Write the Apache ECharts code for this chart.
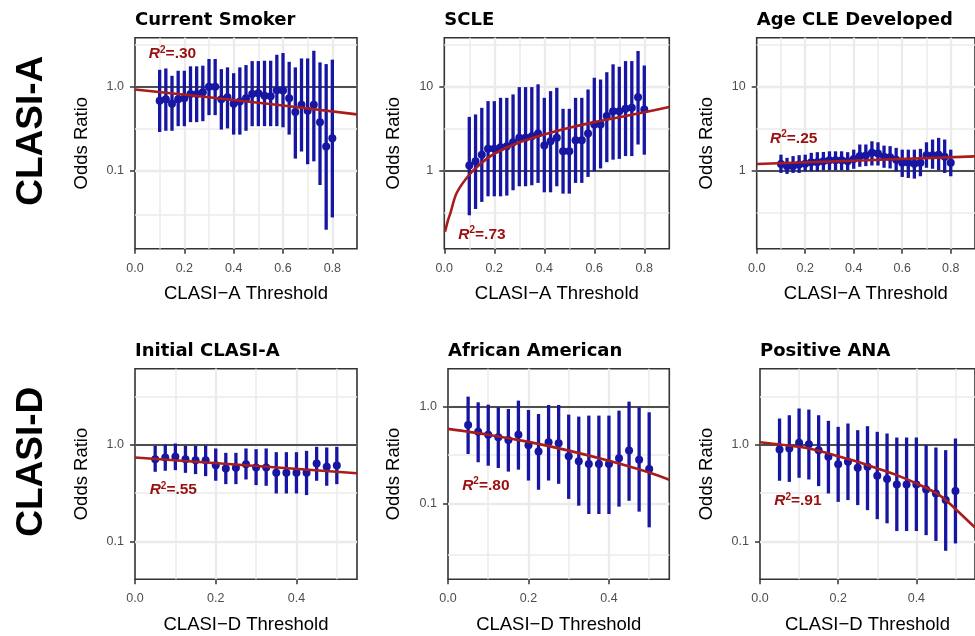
<!DOCTYPE html>
<html><head><meta charset="utf-8">
<script src="https://cdn.jsdelivr.net/npm/echarts@6/dist/echarts.min.js"></script>
<style>html,body{margin:0;padding:0;background:#fff}#c{width:975px;height:636px}</style>
</head><body><div id="c"></div>
<script>
// ---------------- data ----------------
const xA = [0.1,0.125,0.15,0.175,0.2,0.225,0.25,0.275,0.3,0.325,0.35,0.375,0.4,0.425,0.45,0.475,0.5,0.525,0.55,0.575,0.6,0.625,0.65,0.675,0.7,0.725,0.75,0.775,0.8];
const xD = [0.05,0.075,0.1,0.125,0.15,0.175,0.2,0.225,0.25,0.275,0.3,0.325,0.35,0.375,0.4,0.425,0.45,0.475,0.5];

// Current Smoker
const or1 = [0.68,0.71,0.63,0.71,0.73,0.82,0.82,0.86,1.0,1.0,0.71,0.75,0.63,0.67,0.73,0.82,0.84,0.78,0.77,0.91,0.90,0.73,0.50,0.61,0.52,0.61,0.38,0.195,0.245];
const lo1 = [0.29,0.30,0.30,0.34,0.34,0.38,0.38,0.39,0.46,0.46,0.31,0.32,0.27,0.27,0.30,0.34,0.34,0.34,0.34,0.34,0.33,0.27,0.14,0.17,0.12,0.13,0.068,0.020,0.028];
const hi1 = [1.59,1.65,1.35,1.55,1.55,1.75,1.75,1.78,2.14,2.14,1.62,1.70,1.45,1.70,1.81,2.02,2.02,2.04,2.04,2.40,2.52,1.98,1.70,2.17,2.17,2.68,1.95,1.86,2.10];
const fit1X = [0,0.3,0.6,0.9];
const fit1Y = [0.93,0.75,0.60,0.47];

// SCLE
const or2 = [1.16,1.30,1.56,1.83,1.83,1.91,1.97,2.19,2.47,2.47,2.59,2.78,2.00,2.25,2.47,1.71,1.71,2.32,2.32,2.78,3.56,3.56,4.48,5.13,5.13,5.47,5.62,7.53,5.37];
const lo2 = [0.297,0.353,0.428,0.499,0.499,0.499,0.509,0.589,0.657,0.657,0.675,0.720,0.557,0.557,0.657,0.537,0.537,0.720,0.720,0.848,0.99,1.07,1.27,1.36,1.39,1.50,1.50,2.06,1.56];
const hi2 = [4.39,4.69,5.62,6.75,6.75,7.39,7.39,8.11,9.91,9.91,9.91,10.7,7.39,8.88,9.73,5.47,5.47,7.39,7.39,9.29,12.8,12.2,14.9,18.5,17.3,20.2,20.2,26.6,17.9];
const fit2X = [0.003,0.015,0.025,0.05,0.1,0.15,0.2,0.3,0.4,0.5,0.6,0.7,0.8,0.9];
const fit2Y = [0.19,0.26,0.32,0.55,0.90,1.25,1.6,2.19,2.71,3.25,3.8,4.35,4.99,5.75];

// Age CLE Developed
const or3 = [1.21,1.14,1.14,1.19,1.22,1.27,1.27,1.30,1.34,1.34,1.34,1.30,1.39,1.50,1.52,1.64,1.61,1.47,1.45,1.36,1.25,1.25,1.22,1.25,1.54,1.54,1.56,1.47,1.25];
const lo3 = [0.947,0.921,0.947,0.947,0.99,0.99,0.99,1.02,1.02,1.02,1.02,1.01,1.06,1.12,1.14,1.16,1.16,1.09,1.07,0.99,0.848,0.825,0.81,0.864,1.09,1.06,1.02,0.947,0.864];
const hi3 = [1.56,1.43,1.50,1.54,1.56,1.64,1.67,1.68,1.71,1.71,1.71,1.67,1.79,2.06,2.06,2.25,2.19,2.00,1.97,1.88,1.79,1.79,1.79,1.83,2.19,2.36,2.47,2.36,1.79];
const fit3X = [0,0.45,0.9];
const fit3Y = [1.21,1.34,1.49];

// Initial CLASI-A
const or4 = [0.711,0.740,0.752,0.711,0.695,0.695,0.617,0.570,0.579,0.632,0.584,0.584,0.514,0.514,0.514,0.514,0.642,0.593,0.612];
const lo4 = [0.527,0.540,0.548,0.514,0.499,0.475,0.426,0.393,0.393,0.439,0.384,0.378,0.315,0.315,0.315,0.303,0.426,0.378,0.393];
const hi4 = [0.977,1.008,1.032,0.977,0.977,0.984,0.917,0.827,0.827,0.917,0.902,0.917,0.840,0.840,0.840,0.867,0.954,0.939,0.954];
const fit4X = [0,0.275,0.55];
const fit4Y = [0.74,0.615,0.51];

// African American
const or5 = [0.647,0.552,0.514,0.483,0.453,0.514,0.399,0.344,0.429,0.419,0.308,0.273,0.256,0.256,0.256,0.293,0.352,0.284,0.228];
const lo5 = [0.325,0.267,0.246,0.233,0.214,0.224,0.173,0.139,0.173,0.160,0.112,0.0953,0.0782,0.0782,0.0782,0.0931,0.107,0.0827,0.0570];
const hi5 = [1.268,1.108,1.048,0.984,0.946,1.153,0.924,0.840,1.040,1.040,0.827,0.789,0.808,0.808,0.808,0.909,1.126,0.984,0.874];
const fit5X = [0,0.1,0.2,0.3,0.4,0.5,0.55];
const fit5Y = [0.59,0.514,0.433,0.352,0.276,0.209,0.176];

// Positive ANA
const or6 = [0.895,0.917,1.048,1.016,0.881,0.752,0.632,0.668,0.579,0.593,0.479,0.443,0.390,0.390,0.390,0.346,0.315,0.269,0.333];
const lo6 = [0.426,0.415,0.457,0.439,0.375,0.315,0.258,0.269,0.239,0.212,0.171,0.155,0.129,0.129,0.129,0.117,0.102,0.0807,0.0961];
const hi6 = [1.868,2.02,2.37,2.31,2.02,1.768,1.533,1.66,1.416,1.557,1.362,1.309,1.190,1.190,1.190,0.992,0.939,0.881,1.162];
const fit6X = [0,0.1,0.15,0.2,0.25,0.3,0.35,0.4,0.45,0.475,0.5,0.55];
const fit6Y = [1.065,0.954,0.87,0.764,0.668,0.57,0.487,0.40,0.32,0.27,0.218,0.14];

// text
const titles = ['Current Smoker','SCLE','Age CLE Developed','Initial CLASI-A','African American','Positive ANA'];
const r2Text = ['.30','.73','.25','.55','.80','.91'];
const rowLabels = ['CLASI-A','CLASI-D'];
const xNames = ['CLASI\u2212A Threshold','CLASI\u2212D Threshold'];
const yName = 'Odds Ratio';
const xTicksA = [0,0.2,0.4,0.6,0.8];
const xTickLabelsA = ['0.0','0.2','0.4','0.6','0.8'];
const xTicksD = [0,0.2,0.4];
const xTickLabelsD = ['0.0','0.2','0.4'];
const yTicksLow = [0.1,1];
const yTickLabelsLow = ['0.1','1.0'];
const yTicksHigh = [1,10];
const yTickLabelsHigh = ['1','10'];

// ---------------- layout / style ----------------
const BLUE = '#1616A2';
const RED = '#A81C1C';
const RED_TEXT = '#9A1010';
const GRIDC = '#EBEBEB';
const FONT = "'Liberation Sans', Arial, sans-serif";

const panels = [
  {x:xA, or:or1, lo:lo1, hi:hi1, fx:fit1X, fy:fit1Y, row:0, yt:yTicksLow,  yl:yTickLabelsLow,  smooth:false},
  {x:xA, or:or2, lo:lo2, hi:hi2, fx:fit2X, fy:fit2Y, row:0, yt:yTicksHigh, yl:yTickLabelsHigh, smooth:0.35},
  {x:xA, or:or3, lo:lo3, hi:hi3, fx:fit3X, fy:fit3Y, row:0, yt:yTicksHigh, yl:yTickLabelsHigh, smooth:false},
  {x:xD, or:or4, lo:lo4, hi:hi4, fx:fit4X, fy:fit4Y, row:1, yt:yTicksLow,  yl:yTickLabelsLow,  smooth:false},
  {x:xD, or:or5, lo:lo5, hi:hi5, fx:fit5X, fy:fit5Y, row:1, yt:yTicksLow,  yl:yTickLabelsLow,  smooth:0.3},
  {x:xD, or:or6, lo:lo6, hi:hi6, fx:fit6X, fy:fit6Y, row:1, yt:yTicksLow,  yl:yTickLabelsLow,  smooth:0.3},
];
const layout = [
  {left:135,   top:37.7,  width:222,   height:211,   xmax:0.9,  ymin:0.0119, ymax:3.83, yGap:43.5, r2x:0.054, r2y:2.45},
  {left:444.3, top:37.7,  width:225,   height:211,   xmax:0.9,  ymin:0.119,  ymax:38.3, yGap:40.8, r2x:0.054, r2y:0.176},
  {left:756.7, top:37.7,  width:226,   height:211,   xmax:0.9,  ymin:0.119,  ymax:38.3, yGap:40.7, r2x:0.053, r2y:2.42},
  {left:135,   top:368.7, width:222,   height:210.6, xmax:0.55, ymin:0.041,  ymax:6.1,  yGap:43.5, r2x:0.035, r2y:0.341},
  {left:448,   top:368.7, width:221.3, height:210.6, xmax:0.55, ymin:0.0166, ymax:2.46, yGap:44.5, r2x:0.034, r2y:0.154},
  {left:760,   top:368.7, width:222,   height:210.6, xmax:0.55, ymin:0.041,  ymax:6.1,  yGap:44,   r2x:0.035, r2y:0.262},
];
const titleY = [20.8, 351.7];
const rowLabelY = [130.8, 461.7];

function lookup(ticks, labels) {
  return function (v) {
    for (let j = 0; j < ticks.length; j++) {
      if (Math.abs(ticks[j] - v) < 1e-6 * Math.max(1, Math.abs(v))) return labels[j];
    }
    return '';
  };
}

const grids = [], xAxes = [], yAxes = [], series = [], graphics = [];

panels.forEach((p, i) => {
  const L = layout[i];
  const xt = p.row === 0 ? xTicksA : xTicksD;
  const xl = p.row === 0 ? xTickLabelsA : xTickLabelsD;
  grids.push({left:L.left, top:L.top, width:L.width, height:L.height, show:true,
    borderColor:'#333', borderWidth:1.6, backgroundColor:'transparent', containLabel:false});
  xAxes.push({
    gridIndex:i, type:'value', min:0, max:L.xmax,
    splitLine:{show:false}, axisLine:{show:false},
    axisTick:{show:true, customValues:xt, length:5, lineStyle:{color:'#333', width:1.5}},
    axisLabel:{customValues:xt, formatter:lookup(xt, xl), color:'#4D4D4D', fontSize:12.5, fontFamily:FONT, margin:13},
    name:xNames[p.row], nameLocation:'middle', nameGap:36,
    nameTextStyle:{fontFamily:FONT, fontSize:18.5, color:'#000'}
  });
  yAxes.push({
    gridIndex:i, type:'log', logBase:10, min:L.ymin, max:L.ymax,
    splitLine:{show:false}, axisLine:{show:false},
    axisTick:{show:true, customValues:p.yt, length:5, lineStyle:{color:'#333', width:1.5}},
    axisLabel:{customValues:p.yt, formatter:lookup(p.yt, p.yl), color:'#4D4D4D', fontSize:12.5, fontFamily:FONT, margin:11},
    name:yName, nameLocation:'middle', nameGap:L.yGap, nameRotate:90,
    nameTextStyle:{fontFamily:FONT, fontSize:18.5, color:'#000'}
  });

  // grid lines (major at ticks, minor at midpoints) + reference line at OR = 1
  const ml = [];
  const majW = 2.3, minW = 1.5;
  xt.forEach((t, k) => {
    if (t > 1e-9 && t < L.xmax - 1e-9) ml.push({xAxis:t, lineStyle:{color:GRIDC, width:majW, type:'solid'}});
    const m = t + (xt[1] - xt[0]) / 2;
    if (m < L.xmax - 1e-9) ml.push({xAxis:m, lineStyle:{color:GRIDC, width:minW, type:'solid'}});
  });
  const lmin = Math.log10(L.ymin), lmax = Math.log10(L.ymax);
  for (let k = Math.floor(lmin); k <= Math.ceil(lmax); k++) {
    if (k > lmin && k < lmax) ml.push({yAxis:Math.pow(10, k), lineStyle:{color:GRIDC, width:majW, type:'solid'}});
    if (k + 0.5 > lmin && k + 0.5 < lmax) ml.push({yAxis:Math.pow(10, k + 0.5), lineStyle:{color:GRIDC, width:minW, type:'solid'}});
  }
  ml.push({yAxis:1, lineStyle:{color:'#1a1a1a', width:1.6, type:'solid'}});
  series.push({
    type:'line', xAxisIndex:i, yAxisIndex:i, data:[[0, L.ymin]], showSymbol:false, silent:true,
    lineStyle:{opacity:0}, z:1,
    markLine:{silent:true, symbol:['none','none'], label:{show:false}, z:1, animation:false,
      emphasis:{disabled:true}, data:ml}
  });

  // error bars
  series.push({
    type:'custom', xAxisIndex:i, yAxisIndex:i, z:3, silent:true,
    data:p.x.map((x, k) => [x, p.lo[k], p.hi[k]]),
    encode:{x:0, y:[1,2]},
    renderItem:function (params, api) {
      const a = api.coord([api.value(0), api.value(1)]);
      const b = api.coord([api.value(0), api.value(2)]);
      return {type:'line', shape:{x1:a[0], y1:a[1], x2:b[0], y2:b[1]},
        style:{stroke:BLUE, lineWidth:3.3}};
    }
  });
  // points
  series.push({
    type:'scatter', xAxisIndex:i, yAxisIndex:i, z:4, silent:true,
    symbol:'circle', symbolSize:8, itemStyle:{color:BLUE, opacity:1},
    data:p.x.map((x, k) => [x, p.or[k]])
  });
  // fitted curve
  series.push({
    type:'line', xAxisIndex:i, yAxisIndex:i, z:5, silent:true, showSymbol:false, symbol:'none',
    smooth:p.smooth, lineStyle:{color:RED, width:2.6},
    data:p.fx.map((x, k) => [x, p.fy[k]])
  });
  // R^2 annotation
  series.push({
    type:'scatter', xAxisIndex:i, yAxisIndex:i, z:6, silent:true,
    symbolSize:1, itemStyle:{color:'rgba(0,0,0,0)'},
    data:[[L.r2x, L.r2y]],
    label:{show:true, position:'right', distance:0, color:RED_TEXT, opacity:1,
      formatter:'{a|R}{b|2}{c|=' + r2Text[i] + '}',
      rich:{
        a:{fontFamily:FONT, fontStyle:'italic', fontWeight:'bold', fontSize:15.5, color:RED_TEXT, lineHeight:18},
        b:{fontFamily:FONT, fontWeight:'bold', fontSize:10, color:RED_TEXT, lineHeight:10, verticalAlign:'top'},
        c:{fontFamily:FONT, fontWeight:'bold', fontSize:15.5, color:RED_TEXT, lineHeight:18}
      }}
  });

  graphics.push({type:'text', x:L.left, y:titleY[p.row], silent:true,
    style:{text:titles[i], fill:'#000', font:"bold 18px 'DejaVu Sans', sans-serif",
      align:'left', verticalAlign:'middle', textAlign:'left', textVerticalAlign:'middle'}});
});

rowLabels.forEach((t, r) => {
  graphics.push({type:'text', x:31.5, y:rowLabelY[r], rotation:Math.PI / 2, silent:true,
    style:{text:t, fill:'#000', font:"bold 37px 'Liberation Sans', Arial, sans-serif",
      align:'center', verticalAlign:'middle', textAlign:'center', textVerticalAlign:'middle'}});
});

const chart = echarts.init(document.getElementById('c'), null, {renderer:'canvas'});
chart.setOption({
  animation:false,
  backgroundColor:'#fff',
  grid:grids, xAxis:xAxes, yAxis:yAxes, series:series, graphic:graphics
});
</script>
</body></html>
